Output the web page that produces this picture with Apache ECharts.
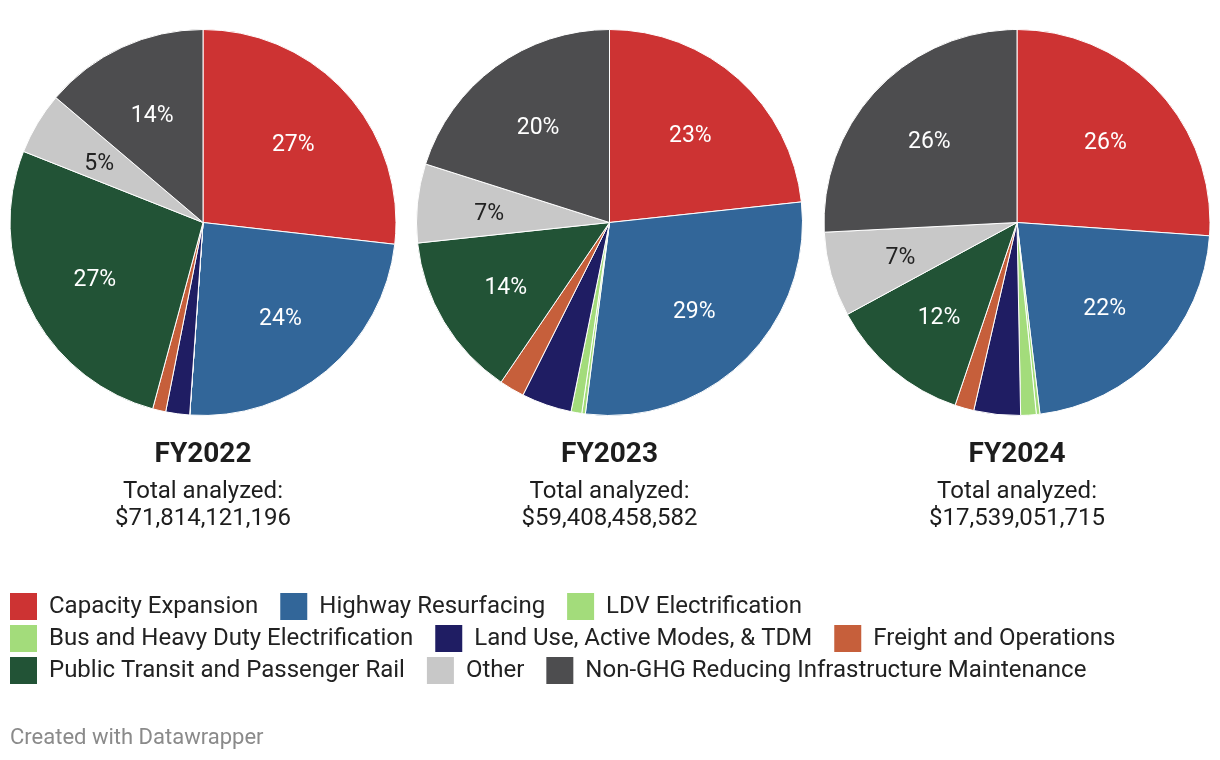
<!DOCTYPE html>
<html>
<head>
<meta charset="utf-8">
<script src="https://cdn.jsdelivr.net/npm/echarts@6/dist/echarts.min.js"></script>
<style>
html,body{margin:0;padding:0;background:#fff;}
#chart{width:1220px;height:760px;}
</style>
</head>
<body>
<div id="chart"></div>
<script>
const categories = [
  "Capacity Expansion",
  "Highway Resurfacing",
  "LDV Electrification",
  "Bus and Heavy Duty Electrification",
  "Land Use, Active Modes, & TDM",
  "Freight and Operations",
  "Public Transit and Passenger Rail",
  "Other",
  "Non-GHG Reducing Infrastructure Maintenance"
];
const colors = ["#cd3333", "#326699", "#a3dc7b", "#a3dc7b", "#1f1d63", "#c65f3b", "#225336", "#c8c8c8", "#4d4d4f"];
const labelColors = ["#fff", "#fff", "#fff", "#fff", "#fff", "#fff", "#fff", "#222", "#fff"];
const years = ["FY2022", "FY2023", "FY2024"];
const totals = ["$71,814,121,196", "$59,408,458,582", "$17,539,051,715"];
const share2022 = [26.8, 24.3, 0, 0, 2.0, 1.1, 26.8, 5.2, 13.8];
const share2023 = [23.3, 28.7, 0.3, 0.9, 4.2, 2.1, 13.8, 6.6, 20.1];
const share2024 = [26.1, 22.0, 0.3, 1.3, 3.9, 1.6, 11.9, 7.1, 25.8];
const shares = [share2022, share2023, share2024];

const centersX = [203, 609.5, 1017];
const centerY = 222.5;
const R = 193;
const FONT = "Roboto, 'Noto Sans', sans-serif";

const chart = echarts.init(document.getElementById('chart'), null, {renderer: 'canvas'});

const series = [];
const titles = [];
shares.forEach((arr, i) => {
  const data = categories.map((c, k) => ({
    name: c, value: arr[k],
    itemStyle: {color: colors[k]}
  }));
  series.push({
    type: 'pie',
    center: [centersX[i], centerY],
    radius: [0, R],
    startAngle: 90,
    clockwise: true,
    avoidLabelOverlap: false,
    label: {show: false},
    labelLine: {show: false},
    itemStyle: {borderColor: '#fff', borderWidth: 1},
    emphasis: {disabled: true},
    data: data
  });
  // transparent overlay used only to place the percentage labels
  series.push({
    type: 'pie',
    center: [centersX[i], centerY + 3.5],
    radius: [43, R],
    startAngle: 90,
    clockwise: true,
    silent: true,
    avoidLabelOverlap: false,
    itemStyle: {color: 'rgba(0,0,0,0)', borderWidth: 0},
    emphasis: {disabled: true},
    label: {
      show: true, position: 'inside', fontSize: 23, fontFamily: FONT,
      formatter: p => p.value >= 4.5 ? Math.round(p.value) + '%' : ''
    },
    labelLine: {show: false},
    data: categories.map((c, k) => ({name: c, value: arr[k], label: {color: labelColors[k]}}))
  });
  titles.push({
    text: years[i], left: centersX[i], top: 438, textAlign: 'center', padding: 0,
    textStyle: {fontSize: 28, fontWeight: 'bold', color: '#1d1d1d', fontFamily: FONT, lineHeight: 34}
  });
  titles.push({
    text: 'Total analyzed:\n' + totals[i], left: centersX[i], top: 478, textAlign: 'center', padding: 0,
    textStyle: {fontSize: 24, fontWeight: 'normal', color: '#1d1d1d', fontFamily: FONT, lineHeight: 27}
  });
});
titles.push({
  text: 'Created with Datawrapper', left: 10, top: 726, padding: 0,
  textStyle: {fontSize: 22, fontWeight: 'normal', color: '#8a8a8a', fontFamily: FONT, lineHeight: 24}
});

const legendRows = [
  [0, 1, 2],
  [3, 4, 5],
  [6, 7, 8]
];
const legends = legendRows.map((row, r) => ({
  show: true,
  left: 10, top: 593 + r * 32,
  padding: 0,
  orient: 'horizontal',
  icon: 'rect',
  itemWidth: 27, itemHeight: 27,
  itemGap: 22,
  selectedMode: false,
  itemStyle: {borderWidth: 0},
  textStyle: {fontSize: 24, color: '#222', fontFamily: FONT, padding: [0, 0, 0, 7]},
  data: row.map(k => ({name: categories[k], itemStyle: {color: colors[k], borderWidth: 0}}))
}));

chart.setOption({
  animation: false,
  backgroundColor: '#fff',
  title: titles,
  legend: legends,
  series: series
});
</script>
</body>
</html>
